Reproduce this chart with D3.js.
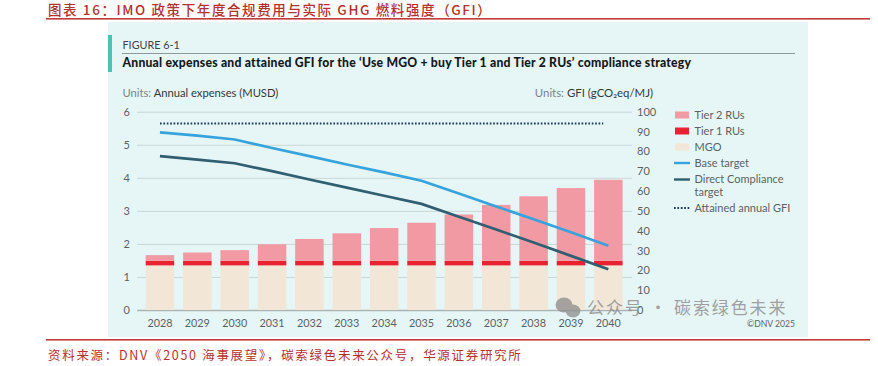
<!DOCTYPE html>
<html>
<head>
<meta charset="utf-8">
<script src="https://cdn.jsdelivr.net/npm/d3@7"></script>
<style>
  html, body { margin: 0; padding: 0; background: #fff; }
  svg { display: block; }
  text { font-family: Lato, "Noto Sans", sans-serif; }
  .cn { font-family: "Noto Sans CJK SC", sans-serif; fill: #b5302f; }
</style>
</head>
<body>
<div id="chart"></div>
<script>
// Data
const years = [2028, 2029, 2030, 2031, 2032, 2033, 2034, 2035, 2036, 2037, 2038, 2039, 2040];
const mgo = [1.35, 1.35, 1.35, 1.35, 1.35, 1.35, 1.35, 1.35, 1.35, 1.35, 1.35, 1.35, 1.35];
const tier1 = [0.14, 0.14, 0.14, 0.14, 0.14, 0.14, 0.14, 0.14, 0.14, 0.14, 0.14, 0.14, 0.14];
const tier2 = [0.17, 0.25, 0.32, 0.5, 0.66, 0.83, 0.99, 1.15, 1.4, 1.69, 1.95, 2.2, 2.45];
const baseTarget = [89.6, 87.9, 86, 81.7, 77.6, 73.4, 69.4, 65.2, 58.7, 52.2, 45.8, 39.2, 32.4];
const directTarget = [77.6, 75.8, 74, 70, 65.8, 61.7, 57.6, 53.5, 47, 40.6, 34, 27.3, 20.5];
const attainedGfi = [94, 94, 94, 94, 94, 94, 94, 94, 94, 94, 94, 94, 94];
const leftTicks = [0, 1, 2, 3, 4, 5, 6];
const rightTicks = [0, 10, 20, 30, 40, 50, 60, 70, 80, 90, 100];

const colors = {
  tier2: "#f29aa3",
  tier1: "#e8222e",
  mgo: "#f2e6d6",
  base: "#36a3dc",
  direct: "#2f5f70",
  dotted: "#1f3b5c",
  grid: "#c9d6d6",
  text: "#5a6266",
};

const svg = d3.select("#chart").append("svg").attr("width", 878).attr("height", 366);

// Report header and footer
svg.append("text").attr("class", "cn").attr("x", 48).attr("y", 14.5)
  .style("font-size", "13.5px").style("letter-spacing", "1.6px").style("font-weight", 500)
  .text("图表 16：IMO 政策下年度合规费用与实际 GHG 燃料强度（GFI）");
svg.append("rect").attr("x", 46).attr("y", 18).attr("width", 824).attr("height", 1.6).attr("fill", "#c0393b");
svg.append("rect").attr("x", 46).attr("y", 339).attr("width", 824).attr("height", 1.6).attr("fill", "#c0393b");
svg.append("text").attr("class", "cn").attr("x", 48).attr("y", 360)
  .style("font-size", "12.5px").style("letter-spacing", "1.7px")
  .text("资料来源：DNV《2050 海事展望》，碳索绿色未来公众号，华源证券研究所");

// Figure panel
svg.append("rect").attr("x", 108).attr("y", 22).attr("width", 700).attr("height", 315).attr("fill", "#e6f6f6");
svg.append("rect").attr("x", 108).attr("y", 35).attr("width", 4).attr("height", 37).attr("fill", "#4fc0b4");
svg.append("text").attr("x", 122.5).attr("y", 49).attr("fill", "#3c4448").style("font-size", "10.8px").text("FIGURE 6-1");
svg.append("line").attr("x1", 122).attr("x2", 795).attr("y1", 53.5).attr("y2", 53.5).attr("stroke", "#8d9a9c").attr("stroke-width", 1);
svg.append("text").attr("x", 122.5).attr("y", 67).attr("fill", "#14191c")
  .style("font-size", "12.2px").style("font-weight", 900).style("letter-spacing", "0.21px")
  .text("Annual expenses and attained GFI for the ‘Use MGO + buy Tier 1 and Tier 2 RUs’ compliance strategy");

const unitsLeft = svg.append("text").attr("x", 122.5).attr("y", 97).style("font-size", "11.2px").attr("fill", "#7a8286");
unitsLeft.append("tspan").text("Units: ");
unitsLeft.append("tspan").attr("fill", "#33393c").text("Annual expenses (MUSD)");
const unitsRight = svg.append("text").attr("x", 653).attr("y", 97).attr("text-anchor", "end").style("font-size", "11.4px").attr("fill", "#7a8286");
unitsRight.append("tspan").text("Units: ");
unitsRight.append("tspan").attr("fill", "#33393c").text("GFI (gCO₂eq/MJ)");

// Scales
const x = d3.scaleBand().domain(years).range([141.3, 627]).paddingInner(0.237).paddingOuter(0.118);
const yLeft = d3.scaleLinear().domain([0, 6]).range([310, 111.7]);
const yRight = d3.scaleLinear().domain([0, 100]).range([310, 111.7]);

// Left axis draws the gridlines too
const gridLeft = 137, gridRight = 632;
const leftAxis = svg.append("g").attr("transform", `translate(${gridLeft},0)`)
  .call(d3.axisLeft(yLeft).tickValues(leftTicks).tickSize(0).tickPadding(7).tickFormat(d3.format("d")));
leftAxis.select(".domain").remove();
leftAxis.selectAll("text").attr("fill", colors.text).style("font-size", "11px");
leftAxis.selectAll(".tick").append("line")
  .attr("x1", 0).attr("x2", gridRight - gridLeft)
  .attr("stroke", (d) => (d === 0 ? "#aab4b4" : colors.grid))
  .attr("stroke-width", (d) => (d === 0 ? 1.4 : 1));

const rightAxis = svg.append("g").attr("transform", `translate(${gridRight},0)`)
  .call(d3.axisRight(yRight).tickValues(rightTicks).tickSize(0).tickPadding(5));
rightAxis.select(".domain").remove();
rightAxis.selectAll("text").attr("fill", colors.text).style("font-size", "11px");

const xAxis = svg.append("g").attr("transform", "translate(0,310)")
  .call(d3.axisBottom(x).tickSize(0).tickPadding(9).tickFormat(d3.format("d")));
xAxis.select(".domain").remove();
xAxis.selectAll("text").attr("fill", colors.text).style("font-size", "10.8px");

// Stacked bars
const stackRows = years.map((year, i) => ({ year, mgo: mgo[i], tier1: tier1[i], tier2: tier2[i] }));
const stack = d3.stack().keys(["mgo", "tier1", "tier2"])(stackRows);
svg.append("g").selectAll("g").data(stack).join("g")
  .attr("fill", (s) => colors[s.key])
  .selectAll("rect").data((s) => s).join("rect")
  .attr("x", (d) => x(d.data.year))
  .attr("y", (d) => yLeft(d[1]))
  .attr("width", x.bandwidth())
  .attr("height", (d) => yLeft(d[0]) - yLeft(d[1]));

// Lines on the GFI axis
const line = d3.line()
  .x((d, i) => x(years[i]) + x.bandwidth() / 2)
  .y((d) => yRight(d));

// The dotted line stops a little short of the last year
svg.append("clipPath").attr("id", "dotClip").append("rect")
  .attr("x", gridLeft).attr("y", 100).attr("height", 50)
  .attr("width", x(2040) + x.bandwidth() / 2 - 5 - gridLeft);
svg.append("path").datum(attainedGfi).attr("fill", "none").attr("stroke", colors.dotted)
  .attr("clip-path", "url(#dotClip)")
  .attr("stroke-width", 2).attr("stroke-dasharray", "1.7 1.7").attr("d", line);
svg.append("path").datum(baseTarget).attr("fill", "none").attr("stroke", colors.base)
  .attr("stroke-width", 2.7).attr("d", line);
svg.append("path").datum(directTarget).attr("fill", "none").attr("stroke", colors.direct)
  .attr("stroke-width", 2.7).attr("d", line);

// Legend
const legendItems = [
  { label: ["Tier 2 RUs"], type: "box", color: colors.tier2, y: 115 },
  { label: ["Tier 1 RUs"], type: "box", color: colors.tier1, y: 131 },
  { label: ["MGO"], type: "box", color: colors.mgo, y: 147 },
  { label: ["Base target"], type: "line", color: colors.base, y: 163 },
  { label: ["Direct Compliance", "target"], type: "line", color: colors.direct, y: 179.5 },
  { label: ["Attained annual GFI"], type: "dots", color: colors.dotted, y: 208 },
];
const legend = svg.append("g").selectAll("g").data(legendItems).join("g")
  .attr("transform", (d) => `translate(674,${d.y})`);
legend.filter((d) => d.type === "box").append("rect")
  .attr("x", 1).attr("y", -3.5).attr("width", 14).attr("height", 7).attr("fill", (d) => d.color);
legend.filter((d) => d.type !== "box").append("line")
  .attr("x1", 0).attr("x2", 16)
  .attr("stroke", (d) => d.color)
  .attr("stroke-width", (d) => (d.type === "dots" ? 2 : 2.4))
  .attr("stroke-dasharray", (d) => (d.type === "dots" ? "1.7 1.7" : null));
legend.append("text").attr("x", 20.5).attr("y", 3.8)
  .attr("fill", colors.text).style("font-size", "11px")
  .selectAll("tspan").data((d) => d.label).join("tspan")
  .attr("x", 20.5).attr("dy", (d, i) => (i ? 13 : 0)).text((d) => d);

// Copyright and watermark
svg.append("text").attr("x", 795).attr("y", 327).attr("text-anchor", "end")
  .attr("fill", "#5c6468").style("font-size", "8.6px").text("©DNV 2025");

const mark = svg.append("g").attr("fill", "#8c8c8c").attr("opacity", 0.75);
mark.append("ellipse").attr("cx", 564).attr("cy", 305).attr("rx", 8.5).attr("ry", 7.5);
mark.append("ellipse").attr("cx", 573).attr("cy", 311).attr("rx", 7.5).attr("ry", 6.5);
svg.append("text").attr("x", 587).attr("y", 314)
  .attr("fill", "#8c8c8c").attr("opacity", 0.8)
  .style("font-family", '"Noto Sans CJK SC", sans-serif').style("font-size", "17px").style("letter-spacing", "1.9px")
  .text("公众号 · 碳索绿色未来");
</script>
</body>
</html>
